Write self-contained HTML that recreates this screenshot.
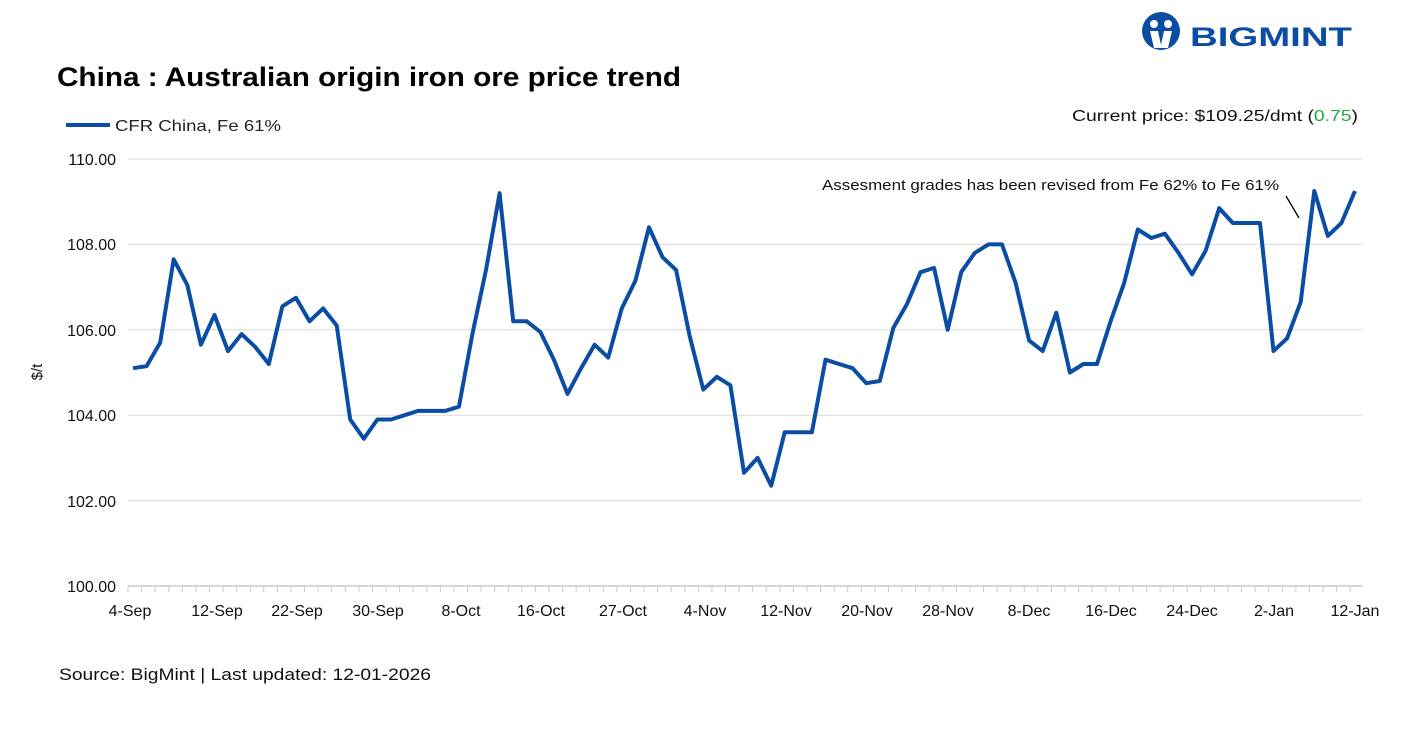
<!DOCTYPE html>
<html><head><meta charset="utf-8"><style>
body{margin:0;background:#fff;width:1415px;height:737px;overflow:hidden;font-family:"Liberation Sans",Arial,sans-serif}
</style></head><body>
<svg width="1415" height="737" xmlns="http://www.w3.org/2000/svg" font-family="Liberation Sans, Arial, sans-serif">
<text x="57" y="86" font-size="27" font-weight="bold" fill="#000" textLength="624" lengthAdjust="spacingAndGlyphs">China : Australian origin iron ore price trend</text>
<line x1="66" y1="125" x2="110" y2="125" stroke="#0b4da2" stroke-width="4"/>
<text x="115" y="131" font-size="16" fill="#222" textLength="166" lengthAdjust="spacingAndGlyphs">CFR China, Fe 61%</text>
<text x="1072" y="121" font-size="16" fill="#111" textLength="286" lengthAdjust="spacingAndGlyphs">Current price: $109.25/dmt (<tspan fill="#22a845">0.75</tspan>)</text>
<g>
<circle cx="1161" cy="31" r="19" fill="#0b4da2"/>
<circle cx="1154" cy="24" r="4" fill="#fff"/><circle cx="1168" cy="24" r="4" fill="#fff"/>
<path d="M1150 31 L1158 31 L1161 45 L1164 31 L1172 31 L1168 48 L1154 48 Z" fill="#fff"/>
<text x="1190" y="46" font-size="27" font-weight="bold" fill="#0b4da2" textLength="162" lengthAdjust="spacingAndGlyphs">BIGMINT</text>
</g>
<g stroke="#d9d9d9" stroke-width="1">
<line x1="128" y1="159" x2="1362" y2="159"/><line x1="128" y1="244.4" x2="1362" y2="244.4"/>
<line x1="128" y1="329.8" x2="1362" y2="329.8"/><line x1="128" y1="415.2" x2="1362" y2="415.2"/>
<line x1="128" y1="500.6" x2="1362" y2="500.6"/>
</g>
<line x1="128" y1="586" x2="1362" y2="586" stroke="#c8c8c8" stroke-width="1.5"/>
<g id="ticks" stroke="#c8c8c8" stroke-width="1"></g>
<g font-size="16" fill="#111" text-anchor="end">
<text x="116" y="165">110.00</text><text x="116" y="250">108.00</text><text x="116" y="336">106.00</text>
<text x="116" y="421">104.00</text><text x="116" y="507">102.00</text><text x="116" y="592">100.00</text>
</g>
<text transform="translate(42,372) rotate(-90)" font-size="15" fill="#111" text-anchor="middle">$/t</text>
<g font-size="16" fill="#111" text-anchor="middle" id="xl"></g>
<text x="822" y="190" font-size="14.5" fill="#111" textLength="457" lengthAdjust="spacingAndGlyphs">Assesment grades has been revised from Fe 62% to Fe 61%</text>
<line x1="1286" y1="196" x2="1299" y2="218" stroke="#000" stroke-width="1.3"/>
<polyline id="ln" fill="none" stroke="#0b4da2" stroke-width="4" stroke-linejoin="round"/>
<text x="59" y="680" font-size="17" fill="#111" textLength="372" lengthAdjust="spacingAndGlyphs">Source: BigMint | Last updated: 12-01-2026</text>
</svg>
<script>
var v=[105.1,105.15,105.7,107.65,107.05,105.65,106.35,105.5,105.9,105.6,105.2,106.55,106.75,106.2,106.5,106.1,103.9,103.45,103.9,103.9,104.0,104.1,104.1,104.1,104.2,105.9,107.4,109.2,106.2,106.2,105.95,105.3,104.5,105.1,105.65,105.35,106.5,107.15,108.4,107.7,107.4,105.85,104.6,104.9,104.7,102.65,103.0,102.35,103.6,103.6,103.6,105.3,105.2,105.1,104.75,104.8,106.05,106.6,107.35,107.45,106.0,107.35,107.8,108.0,108.0,107.1,105.75,105.5,106.4,105.0,105.2,105.2,106.2,107.1,108.35,108.15,108.25,107.8,107.3,107.85,108.85,108.5,108.5,108.5,105.5,105.8,106.65,109.25,108.2,108.5,109.25];
var n=v.length,x0=133,x1=1355,dx=(x1-x0)/(n-1),p=[];
for(var i=0;i<n;i++)p.push((x0+i*dx).toFixed(1)+','+(586-(v[i]-100)*42.7).toFixed(1));
document.getElementById('ln').setAttribute('points',p.join(' '));
var t='';for(var x=128;x<=1363;x+=13.58)t+='<line x1="'+x+'" y1="586" x2="'+x+'" y2="592"/>';
document.getElementById('ticks').innerHTML=t;
var L=['4-Sep','12-Sep','22-Sep','30-Sep','8-Oct','16-Oct','27-Oct','4-Nov','12-Nov','20-Nov','28-Nov','8-Dec','16-Dec','24-Dec','2-Jan','12-Jan'],s='';
var xs=[130,217,297,378,461,541,623,705,786,867,948,1029,1111,1192,1274,1355];
for(var j=0;j<L.length;j++)s+='<text x="'+xs[j]+'" y="616">'+L[j]+'</text>';
document.getElementById('xl').innerHTML=s;
</script>
</body></html>
